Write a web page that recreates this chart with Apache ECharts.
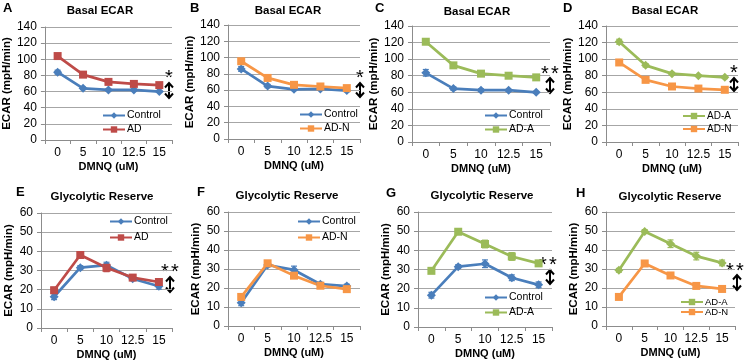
<!DOCTYPE html>
<html><head><meta charset="utf-8">
<script src="https://cdn.jsdelivr.net/npm/echarts@6/dist/echarts.min.js"></script>
<style>html,body{margin:0;padding:0;background:#fff}#c{width:748px;height:363px}</style>
</head><body><div id="c"></div>
<script>
// ---- data ----
const categories = ['0', '5', '10', '12.5', '15'];
const basalTicks = [0, 20, 40, 60, 80, 100, 120, 140];
const reserveTicks = [0, 10, 20, 30, 40, 50, 60];

// Basal ECAR (mpH/min)
const A_control = [84, 64, 62, 62, 60];
const A_AD      = [104, 81, 72, 69.5, 68];
const B_control = [86, 65, 61, 61.5, 59.5];
const B_ADN     = [95.5, 75, 66.5, 64.5, 62.5];
const C_control = [83.5, 64.5, 62.5, 62.5, 60];
const C_ADA     = [121, 92.5, 82.5, 80, 78];
const D_ADA     = [121, 92.5, 82.5, 80, 78];
const D_ADN     = [96, 75, 67, 64.5, 63];
// Glycolytic Reserve (mpH/min)
const E_control = [16.3, 31.5, 32.8, 25.7, 21.8];
const E_AD      = [19.7, 38.1, 31.4, 26.3, 24];
const F_control = [12.2, 32.1, 29.5, 22, 21];
const F_ADN     = [15.3, 33, 26.5, 21.2, 19.4];
const G_control = [16.6, 31.5, 33, 25.7, 22];
const G_ADA     = [29.3, 49.7, 43.3, 36.8, 33.2];
const H_ADA     = [29.3, 49.7, 43.3, 36.8, 33.2];
const H_ADN     = [15.3, 32.9, 26.6, 21.1, 19.5];
// error bars (approx. SEM)
const A_control_err = [2.5, 1.5, 1, 1, 1];
const A_AD_err      = [2.5, 1.5, 1, 1, 1];
const B_control_err = [3, 2, 1.5, 1, 1.5];
const B_ADN_err     = [2, 1.5, 1, 1, 1];
const C_control_err = [4, 2, 1.5, 1, 1];
const C_ADA_err     = [3, 2, 1.5, 1, 1.5];
const D_ADA_err     = [3, 2, 1.5, 1, 1.5];
const D_ADN_err     = [2, 1.5, 1, 1, 1];
const E_control_err = [1.5, 1, 1.5, 1, 1.5];
const E_AD_err      = [1.5, 1.5, 2, 1.5, 1.5];
const F_control_err = [1.5, 1, 2, 1, 1];
const F_ADN_err     = [1.5, 1, 1, 1, 1];
const G_control_err = [1.5, 1, 2, 1.5, 1.5];
const G_ADA_err     = [1, 1, 2, 2, 1.5];
const H_ADA_err     = [1, 1, 2, 2, 1.5];
const H_ADN_err     = [1, 1, 1, 1, 1];

const titleBasal = 'Basal ECAR';
const titleReserve = 'Glycolytic Reserve';
const yName = 'ECAR (mpH/min)';
const xName = 'DMNQ (uM)';

// ---- styles ----
const COL = {Control: '#4a7ebb', AD: '#be4b48', 'AD-N': '#f79646', 'AD-A': '#9bbb59'};
const FONT = 'Liberation Sans, Arial, sans-serif';

const panels = [
  {letter:'A', title:titleBasal, ticks:basalTicks, grid:{left:41, top:27, width:131, height:113},
   series:[['Control', A_control, A_control_err, 'diamond'], ['AD', A_AD, A_AD_err, 'rect']],
   legend:{left:102, top:110, gap:3, fs:10.5}, tx:100, ty:5, lx:3, ly:2, star:'*', sx:169, sy:68, ax:169, ay1:83, ay2:98},
  {letter:'B', title:titleBasal, ticks:basalTicks, grid:{left:228, top:25, width:132, height:114},
   series:[['Control', B_control, B_control_err, 'diamond'], ['AD-N', B_ADN, B_ADN_err, 'rect']],
   legend:{left:299, top:109, gap:3, fs:10.5}, tx:288, ty:5, lx:190, ly:2, star:'*', sx:360, sy:68, ax:360, ay1:83, ay2:97},
  {letter:'C', title:titleBasal, ticks:basalTicks, grid:{left:412, top:26, width:138, height:116},
   series:[['Control', C_control, C_control_err, 'diamond'], ['AD-A', C_ADA, C_ADA_err, 'rect']],
   legend:{left:484, top:110, gap:3, fs:10.5}, tx:477, ty:6, lx:375, ly:2, star:'**', sx:550, sy:64, ax:550, ay1:78, ay2:93},
  {letter:'D', title:titleBasal, ticks:basalTicks, grid:{left:606, top:26, width:132, height:116},
   series:[['AD-A', D_ADA, D_ADA_err, 'diamond'], ['AD-N', D_ADN, D_ADN_err, 'rect']],
   legend:{left:682, top:111, gap:3, fs:10}, tx:665, ty:5, lx:563, ly:2, star:'*', sx:734, sy:63, ax:734, ay1:78, ay2:91},
  {letter:'E', title:titleReserve, ticks:reserveTicks, grid:{left:41, top:213, width:131, height:115},
   series:[['Control', E_control, E_control_err, 'diamond'], ['AD', E_AD, E_AD_err, 'rect']],
   legend:{left:109, top:216, gap:5, fs:10.5}, tx:102, ty:191, lx:16, ly:186, star:'**', sx:170, sy:262, ax:170, ay1:277, ay2:292},
  {letter:'F', title:titleReserve, ticks:reserveTicks, grid:{left:228, top:212, width:132, height:114},
   series:[['Control', F_control, F_control_err, 'diamond'], ['AD-N', F_ADN, F_ADN_err, 'rect']],
   legend:{left:297, top:216, gap:5, fs:10.5}, tx:287, ty:190, lx:197, ly:186, star:null},
  {letter:'G', title:titleReserve, ticks:reserveTicks, grid:{left:418, top:212, width:134, height:115},
   series:[['Control', G_control, G_control_err, 'diamond'], ['AD-A', G_ADA, G_ADA_err, 'rect']],
   legend:{left:484, top:292, gap:4, fs:10.5}, tx:482, ty:190, lx:386, ly:187, star:'**', sx:548, sy:255, ax:550, ay1:270, ay2:284},
  {letter:'H', title:titleReserve, ticks:reserveTicks, grid:{left:606, top:212, width:129, height:114},
   series:[['AD-A', H_ADA, H_ADA_err, 'diamond'], ['AD-N', H_ADN, H_ADN_err, 'rect']],
   legend:{left:680, top:297, gap:0, fs:9.5}, tx:670, ty:191, lx:576, ly:187, star:'**', sx:735, sy:261, ax:737, ay1:275, ay2:290}
];

const option = {
  backgroundColor: '#fff', animation: false,
  textStyle: {fontFamily: FONT},
  grid: [], xAxis: [], yAxis: [], series: [], legend: [], title: [], graphic: []
};

panels.forEach((p, i) => {
  const tks = p.ticks;
  option.grid.push(Object.assign({containLabel: false}, p.grid));
  option.xAxis.push({
    type: 'category', gridIndex: i, data: categories, boundaryGap: true,
    name: xName, nameLocation: 'middle', nameGap: 21,
    nameTextStyle: {fontSize: 11, fontWeight: 'bold', color: '#000', fontFamily: FONT},
    axisLine: {lineStyle: {color: '#8c8c8c', width: 1}},
    axisTick: {show: true, length: 4, interval: 0, lineStyle: {color: '#8c8c8c'}},
    axisLabel: {fontSize: 12, color: '#000', margin: 7, interval: 0, hideOverlap: false, fontFamily: FONT},
    splitLine: {show: false}
  });
  option.yAxis.push({
    type: 'value', gridIndex: i, min: tks[0], max: tks[tks.length - 1], interval: tks[1] - tks[0],
    name: yName, nameLocation: 'middle', nameGap: 26,
    nameTextStyle: {fontSize: 11.5, fontWeight: 'bold', color: '#000', fontFamily: FONT},
    axisLine: {show: true, lineStyle: {color: '#8c8c8c', width: 1}},
    axisTick: {show: true, length: 4, lineStyle: {color: '#8c8c8c'}},
    axisLabel: {fontSize: 12, color: '#000', margin: 8, fontFamily: FONT},
    splitLine: {show: true, lineStyle: {color: '#a6a6a6', width: 1}}
  });
  const names = [];
  p.series.forEach(([name, vals, errs, sym]) => {
    names.push(name);
    const c = COL[name];
    // error bars
    option.series.push({
      type: 'custom', xAxisIndex: i, yAxisIndex: i, silent: true, z: 2,
      data: vals.map((v, k) => [k, v - errs[k], v + errs[k]]),
      renderItem: (params, api) => {
        const lo = api.coord([api.value(0), api.value(1)]);
        const hi = api.coord([api.value(0), api.value(2)]);
        const w = 3;
        return {type: 'group', children: [
          {type: 'line', shape: {x1: lo[0], y1: lo[1], x2: hi[0], y2: hi[1]}, style: {stroke: c, lineWidth: 1.2}},
          {type: 'line', shape: {x1: lo[0]-w, y1: lo[1], x2: lo[0]+w, y2: lo[1]}, style: {stroke: c, lineWidth: 1.2}},
          {type: 'line', shape: {x1: hi[0]-w, y1: hi[1], x2: hi[0]+w, y2: hi[1]}, style: {stroke: c, lineWidth: 1.2}}
        ]};
      }
    });
    option.series.push({
      type: 'line', name: name, xAxisIndex: i, yAxisIndex: i, data: vals, z: 3,
      symbol: sym, symbolSize: sym === 'rect' ? 8 : 9, showSymbol: true,
      lineStyle: {color: c, width: 2.7}, itemStyle: {color: c}
    });
  });
  option.legend.push({
    data: names, orient: 'vertical', left: p.legend.left, top: p.legend.top,
    itemWidth: 22, itemHeight: 8, itemGap: p.legend.gap, padding: 0,
    textStyle: {fontSize: p.legend.fs, color: '#000', fontFamily: FONT, padding: [0, 0, 0, -3]},
    selectedMode: false
  });
  option.title.push({
    text: p.title, left: p.tx, top: p.ty, textAlign: 'center', padding: 0,
    textStyle: {fontSize: 11.5, fontWeight: 'bold', color: '#000', fontFamily: FONT}
  });
  option.graphic.push({type: 'text', left: p.lx, top: p.ly,
    style: {text: p.letter, font: 'bold 13px ' + FONT, fill: '#000'}});
  if (p.star) {
    const n = p.star.length;
    for (let k = 0; k < n; k++) {
      option.graphic.push({type: 'text', x: p.sx + (k - (n - 1) / 2) * 10, y: p.sy,
        style: {text: '*', font: '20px ' + FONT, fill: '#000', textAlign: 'center', textVerticalAlign: 'top'}});
    }
    const x = p.ax, y1 = p.ay1, y2 = p.ay2;
    option.graphic.push({type: 'group', children: [
      {type: 'line', shape: {x1: x, y1: y1 + 1, x2: x, y2: y2 - 1}, style: {stroke: '#000', lineWidth: 2}},
      {type: 'polyline', shape: {points: [[x - 4, y1 + 4.5], [x, y1], [x + 4, y1 + 4.5]]}, style: {stroke: '#000', lineWidth: 2, fill: null}},
      {type: 'polyline', shape: {points: [[x - 4, y2 - 4.5], [x, y2], [x + 4, y2 - 4.5]]}, style: {stroke: '#000', lineWidth: 2, fill: null}}
    ]});
  }
});

const chart = echarts.init(document.getElementById('c'), null, {renderer: 'canvas'});
chart.setOption(option);
</script></body></html>
